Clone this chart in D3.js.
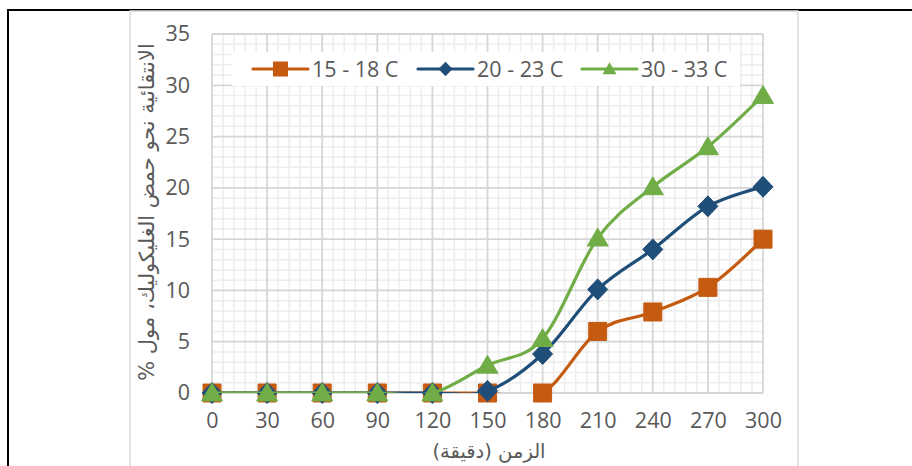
<!DOCTYPE html>
<html>
<head>
<meta charset="utf-8">
<script src="https://cdn.jsdelivr.net/npm/d3@7"></script>
<style>
  html, body { margin: 0; padding: 0; background: #fff; }
  svg { display: block; }
</style>
</head>
<body>
<svg id="chart" width="912" height="466"></svg>
<script>
// Reaction time in minutes
const times = [0, 30, 60, 90, 120, 150, 180, 210, 240, 270, 300];
// Selectivity towards glycolic acid (mol %) at each temperature range
const series15_18 = [0, 0, 0, 0, 0, 0, 0, 6, 7.9, 10.3, 15];
const series20_23 = [0, 0, 0, 0, 0, 0.2, 3.8, 10.1, 14, 18.2, 20.1];
const series30_33 = [0, 0, 0, 0, 0, 2.7, 5.3, 15.1, 20.1, 24, 29];
const seriesNames = ["15 - 18 C", "20 - 23 C", "30 - 33 C"];
const yTicks = [0, 5, 10, 15, 20, 25, 30, 35];
const xTitle = "الزمن (دقيقة)";
const yTitle = "الانتقائية نحو حمض الغليكوليك، مول %";

const seriesList = [
  { name: seriesNames[0], values: series15_18, color: "#C55A11", shape: "square" },
  { name: seriesNames[1], values: series20_23, color: "#1F4E79", shape: "diamond" },
  { name: seriesNames[2], values: series30_33, color: "#70AD47", shape: "triangle" }
];

const svg = d3.select("#chart");
const plot = { left: 212, right: 763, top: 34, bottom: 393 };

const x = d3.scaleLinear().domain([0, 300]).range([plot.left, plot.right]);
const y = d3.scaleLinear().domain([0, 35]).range([plot.bottom, plot.top]);

// Heading fragments from the page above the chart
svg.selectAll("text.head").data([807, 888]).join("text").attr("class", "head")
  .attr("x", d => d).attr("y", -7).attr("text-anchor", "middle")
  .attr("font-family", "'DejaVu Sans', sans-serif").attr("font-weight", "bold")
  .attr("font-size", 22).attr("fill", "#000").text("ج");

// Page frame lines
svg.append("line").attr("x1", 8).attr("x2", 912).attr("y1", 10).attr("y2", 10)
  .attr("stroke", "#000").attr("stroke-width", 2);
svg.append("line").attr("x1", 8).attr("x2", 8).attr("y1", 9).attr("y2", 466)
  .attr("stroke", "#000").attr("stroke-width", 2);

// Chart area border
svg.append("rect").attr("x", 130).attr("y", 11).attr("width", 668).attr("height", 470)
  .attr("fill", "#fff").attr("stroke", "#d9d9d9").attr("stroke-width", 1.5);

// Minor gridlines
const grid = svg.append("g");
grid.selectAll(".vx").data(d3.range(0, 301, 6).filter(v => v % 30 !== 0)).join("line")
  .attr("x1", d => x(d)).attr("x2", d => x(d)).attr("y1", plot.top).attr("y2", plot.bottom)
  .attr("stroke", "#ededed").attr("stroke-width", 1.5);
grid.selectAll(".hy").data(d3.range(0, 36, 1).filter(v => v % 5 !== 0)).join("line")
  .attr("x1", plot.left).attr("x2", plot.right).attr("y1", d => y(d)).attr("y2", d => y(d))
  .attr("stroke", "#ededed").attr("stroke-width", 1.5);
// Major gridlines
grid.selectAll(".vmx").data(times).join("line")
  .attr("x1", d => x(d)).attr("x2", d => x(d)).attr("y1", plot.top).attr("y2", plot.bottom)
  .attr("stroke", "#d6d6d6").attr("stroke-width", 1.8);
grid.selectAll(".hmy").data(yTicks).join("line")
  .attr("x1", plot.left).attr("x2", plot.right).attr("y1", d => y(d)).attr("y2", d => y(d))
  .attr("stroke", "#d6d6d6").attr("stroke-width", 1.8);

// Axes (labels only)
const tickFont = "'Open Sans', sans-serif";
const xAxis = svg.append("g").attr("transform", `translate(0,${plot.bottom})`)
  .call(d3.axisBottom(x).tickValues(times).tickSize(0).tickPadding(24));
const yAxis = svg.append("g").attr("transform", `translate(${plot.left},0)`)
  .call(d3.axisLeft(y).tickValues(yTicks).tickSize(0).tickPadding(22));
[xAxis, yAxis].forEach(a => {
  a.select(".domain").remove();
  a.selectAll("text").attr("fill", "#595959").attr("font-family", tickFont).attr("font-size", 21.5);
});
xAxis.selectAll("text").attr("dy", "0.71em").attr("y", 20);

// Legend background
const legend = svg.append("g");
legend.append("rect").attr("x", 232).attr("y", 52).attr("width", 508).attr("height", 34).attr("fill", "#fff");

// Marker path generator
function markerPath(shape, s) {
  const h = s / 2;
  if (shape === "square") return `M${-h},${-h}H${h}V${h}H${-h}Z`;
  if (shape === "diamond") return `M0,${-h * 1.05}L${h},0L0,${h * 1.05}L${-h},0Z`;
  return `M0,${-h * 0.95}L${h},${h * 0.75}L${-h},${h * 0.75}Z`;
}

// Lines clipped to the plot area
svg.append("clipPath").attr("id", "plotclip").append("rect")
  .attr("x", plot.left).attr("y", plot.top - 5)
  .attr("width", plot.right - plot.left + 5).attr("height", plot.bottom - plot.top + 5);

const line = d3.line().x((d, i) => x(times[i])).y(d => y(d)).curve(d3.curveCatmullRom.alpha(0));

seriesList.forEach(s => {
  const g = svg.append("g");
  g.append("path").attr("d", line(s.values)).attr("fill", "none")
    .attr("stroke", s.color).attr("stroke-width", 3.2).attr("stroke-linejoin", "round")
    .attr("clip-path", "url(#plotclip)");
  const size = s.shape === "square" ? 18 : (s.shape === "diamond" ? 20 : 21);
  g.selectAll("path.m").data(s.values).join("path").attr("class", "m")
    .attr("transform", (d, i) => `translate(${x(times[i])},${y(d)})`)
    .attr("d", markerPath(s.shape, size)).attr("fill", s.color)
    .attr("stroke", s.color).attr("stroke-width", 1);
});

// Legend entries
const legendX = [253, 418, 582];
seriesList.forEach((s, i) => {
  const lx = legendX[i], ly = 69;
  legend.append("line").attr("x1", lx).attr("x2", lx + 55).attr("y1", ly).attr("y2", ly)
    .attr("stroke", s.color).attr("stroke-width", 3.2).attr("stroke-linecap", "round");
  const size = s.shape === "square" ? 15 : 14;
  legend.append("path").attr("transform", `translate(${lx + 27.5},${ly})`)
    .attr("d", markerPath(s.shape, size)).attr("fill", s.color);
  legend.append("text").attr("x", lx + 59).attr("y", ly).attr("dy", "0.36em")
    .attr("fill", "#595959").attr("font-family", tickFont).attr("font-size", 21.5)
    .text(s.name);
});

// Axis titles
svg.append("text").attr("x", 489).attr("y", 451).attr("dy", "0.35em")
  .attr("text-anchor", "middle").attr("fill", "#595959")
  .attr("font-family", "'DejaVu Sans', sans-serif").attr("font-size", 19.5)
  .attr("direction", "rtl").text(xTitle);
svg.append("text").attr("transform", "translate(147,212) rotate(-90)").attr("dy", "0.35em")
  .attr("text-anchor", "middle").attr("fill", "#595959")
  .attr("font-family", "'DejaVu Sans', sans-serif").attr("font-size", 21)
  .attr("direction", "rtl").text(yTitle);
</script>
</body>
</html>
